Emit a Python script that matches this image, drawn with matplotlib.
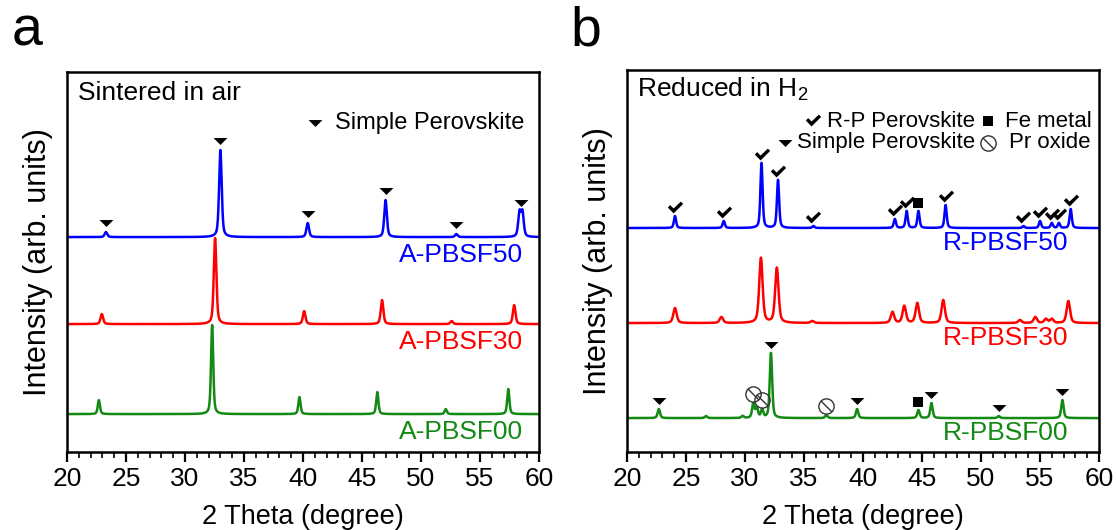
import numpy as np
import matplotlib
matplotlib.use("Agg")
import matplotlib.pyplot as plt
from matplotlib.path import Path

plt.rcParams["font.family"] = ["Liberation Sans", "DejaVu Sans"]
plt.rcParams["mathtext.fontset"] = "custom"
plt.rcParams["mathtext.rm"] = "Liberation Sans"
plt.rcParams["mathtext.default"] = "regular"

# ---------------- data ----------------
two_theta = np.linspace(20, 60, 4001)

# (a) sintered in air: peak positions (deg), intensities, stack offsets
a50_pos = [23.3, 33.0, 40.4, 47.0, 53.0, 58.35, 58.6]
a50_int = [5, 87, 14, 37, 3, 24, 24]
a30_pos = [22.95, 32.55, 40.1, 46.7, 52.6, 57.9]
a30_int = [10, 86, 13, 24, 3, 19]
a00_pos = [22.7, 32.3, 39.7, 46.3, 52.1, 57.4]
a00_int = [14, 89, 17, 22, 5, 25]
a_offsets = [215, 128, 38]
a_labels = ["A-PBSF50", "A-PBSF30", "A-PBSF00"]
a_simple = [23.3, 33.0, 40.4, 47.0, 53.0, 58.47]

# (b) reduced in H2
b50_pos = [24.07, 28.2, 31.4, 32.8, 35.8, 42.7, 43.7, 44.7, 47.0, 53.6, 55.0, 56.0, 56.6, 57.6]
b50_int = [12, 7, 65, 48, 2, 9, 17, 17, 23, 2, 7, 5, 5, 19]
b30_pos = [24.07, 28.0, 31.35, 32.7, 35.7, 42.5, 43.5, 44.6, 46.8, 53.3, 54.6, 55.5, 56.0, 57.4]
b30_int = [15, 6, 65, 55, 2, 11, 17, 20, 23, 3, 6, 4, 4, 22]
b00_pos = [22.7, 26.7, 29.8, 30.7, 31.0, 31.45, 32.2, 36.9, 39.5, 44.7, 45.8, 51.5, 56.9]
b00_int = [9, 2, 2, 14, 10, 8, 65, 3, 9, 8, 15, 2, 18]
b_offsets = [224, 129, 34]
b_labels = ["R-PBSF50", "R-PBSF30", "R-PBSF00"]
b_rp = [24.07, 28.2, 31.4, 32.8, 35.8, 42.7, 43.7, 47.0, 53.6, 55.0, 56.0, 56.6, 57.6]
b_fe_50 = [44.7]
b_simple_00 = [22.7, 32.2, 39.5, 45.8, 51.5, 56.9]
b_prox_00 = [30.7, 31.45, 36.9]
b_fe_00 = [44.7]

colors = ["#0000ff", "#ff0000", "#138a13"]


def pattern(pos, ints, fwhm):
    """Pseudo-Voigt sum of reflections."""
    y = np.zeros_like(two_theta)
    g = fwhm / 2.0
    s = fwhm / 2.3548
    for p, h in zip(pos, ints):
        lor = g ** 2 / ((two_theta - p) ** 2 + g ** 2)
        gau = np.exp(-0.5 * ((two_theta - p) / s) ** 2)
        y += h * (0.5 * lor + 0.5 * gau)
    return y


# ---------------- markers ----------------
tri = Path([(-1, 0.5), (1, 0.5), (0, -0.5), (-1, 0.5)],
           [Path.MOVETO, Path.LINETO, Path.LINETO, Path.CLOSEPOLY])
check = Path([(-1.0, 0.12), (-0.7, 0.45), (-0.25, 0.0), (0.7, 0.9),
              (1.0, 0.6), (-0.25, -0.65), (-1.0, 0.12)],
             [Path.MOVETO] + [Path.LINETO] * 5 + [Path.CLOSEPOLY])
slash = Path([(-1, 1), (1, -1)], [Path.MOVETO, Path.LINETO])

TRI_MS = 10
CHK_MS = 11
SQ_MS = 7.5
CIR_MS = 11


def mark_tri(ax, x, y, **kw):
    ax.plot(x, y, ls="none", marker=tri, ms=TRI_MS, color="black", mew=0, **kw)


def mark_check(ax, x, y, **kw):
    ax.plot(x, y, ls="none", marker=check, ms=CHK_MS, color="black", mew=0, **kw)


def mark_sq(ax, x, y, **kw):
    ax.plot(x, y, ls="none", marker="s", ms=SQ_MS, color="black", mew=0, **kw)


def mark_prox(ax, x, y, **kw):
    ax.plot(x, y, ls="none", marker="o", ms=CIR_MS, mfc="none", mec="#333333", mew=1.0, **kw)
    ax.plot(x, y, ls="none", marker=slash, ms=CIR_MS * 0.707, mfc="none",
            mec="#333333", mew=1.0, **kw)


def peak_top(profile, offset, xs, gap):
    return offset + np.interp(xs, two_theta, profile) + gap


# ---------------- figure ----------------
fig = plt.figure(figsize=(11.17, 5.30), dpi=100)
ax_a = fig.add_axes([0.060, 0.147, 0.4225, 0.717])
ax_b = fig.add_axes([0.5613, 0.147, 0.4226, 0.721])

for ax, top in ((ax_a, 380), (ax_b, 382)):
    ax.set_xlim(20, 60)
    ax.set_ylim(0, top)
    ax.set_xticks(np.arange(20, 61, 5))
    ax.set_xticks(np.arange(20, 61, 1), minor=True)
    ax.set_yticks([])
    ax.tick_params(axis="x", which="major", direction="out", length=7, width=1.6,
                   labelsize=19, pad=4)
    ax.tick_params(axis="x", which="minor", direction="out", length=4, width=1.2)
    for sp in ax.spines.values():
        sp.set_linewidth(1.8)
    ax.set_xlabel("2 Theta (degree)", fontsize=19.5, labelpad=9)
    ax.set_ylabel("Intensity (arb. units)", fontsize=22, labelpad=10)

# panel a
a_profiles = [pattern(a50_pos, a50_int, 0.26),
              pattern(a30_pos, a30_int, 0.26),
              pattern(a00_pos, a00_int, 0.22)]
for prof, off, col, lab in zip(a_profiles, a_offsets, colors, a_labels):
    ax_a.plot(two_theta, prof + off, color=col, lw=1.8)
    ax_a.text(0.966, off - 18, lab, color=col, fontsize=19, ha="right", va="center",
              transform=ax_a.get_yaxis_transform())
mark_tri(ax_a, a_simple, peak_top(a_profiles[0], a_offsets[0], a_simple, 9))

ax_a.text(0.023, 0.945, "Sintered in air", fontsize=19, ha="left", va="center",
          transform=ax_a.transAxes)
mark_tri(ax_a, [0.525], [0.866], transform=ax_a.transAxes, clip_on=False)
ax_a.text(0.568, 0.866, "Simple Perovskite", fontsize=17, ha="left", va="center",
          transform=ax_a.transAxes)

# panel b
b_profiles = [pattern(b50_pos, b50_int, 0.22),
              pattern(b30_pos, b30_int, 0.34),
              pattern(b00_pos, b00_int, 0.24)]
for prof, off, col, lab in zip(b_profiles, b_offsets, colors, b_labels):
    ax_b.plot(two_theta, prof + off, color=col, lw=1.8)
    ax_b.text(0.936, off - 15, lab, color=col, fontsize=19, ha="right", va="center",
              transform=ax_b.get_yaxis_transform())

mark_check(ax_b, b_rp, peak_top(b_profiles[0], b_offsets[0], b_rp, 8))
mark_sq(ax_b, b_fe_50, peak_top(b_profiles[0], b_offsets[0], b_fe_50, 8))
mark_tri(ax_b, b_simple_00, peak_top(b_profiles[2], b_offsets[2], b_simple_00, 8))
mark_sq(ax_b, b_fe_00, peak_top(b_profiles[2], b_offsets[2], b_fe_00, 8))
mark_prox(ax_b, b_prox_00, peak_top(b_profiles[2], b_offsets[2], b_prox_00, 9))

ax_b.text(0.021, 0.948, "Reduced in H$_2$", fontsize=19, ha="left", va="center",
          transform=ax_b.transAxes)
mark_check(ax_b, [0.394], [0.866], transform=ax_b.transAxes, clip_on=False)
ax_b.text(0.424, 0.866, "R-P Perovskite", fontsize=16, ha="left", va="center",
          transform=ax_b.transAxes)
mark_sq(ax_b, [0.765], [0.866], transform=ax_b.transAxes, clip_on=False)
ax_b.text(0.801, 0.866, "Fe metal", fontsize=16, ha="left", va="center",
          transform=ax_b.transAxes)
mark_tri(ax_b, [0.335], [0.809], transform=ax_b.transAxes, clip_on=False)
ax_b.text(0.360, 0.809, "Simple Perovskite", fontsize=16, ha="left", va="center",
          transform=ax_b.transAxes)
mark_prox(ax_b, [0.765], [0.809], transform=ax_b.transAxes, clip_on=False)
ax_b.text(0.809, 0.809, "Pr oxide", fontsize=16, ha="left", va="center",
          transform=ax_b.transAxes)

fig.text(0.010, 1 - 45 / 530, "a", fontsize=40, ha="left", va="baseline")
fig.text(0.511, 1 - 45 / 530, "b", fontsize=40, ha="left", va="baseline")

fig.savefig("out.png", dpi=100)
